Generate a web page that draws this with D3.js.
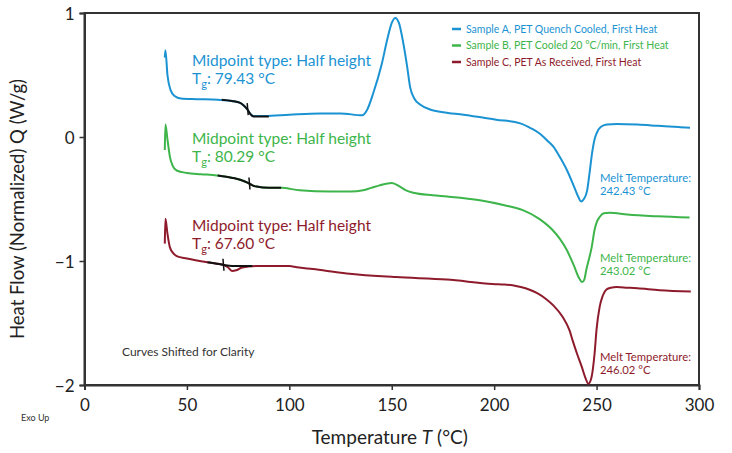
<!DOCTYPE html>
<html>
<head>
    <meta charset="utf-8" />
    <script src="https://cdn.jsdelivr.net/npm/d3@7/dist/d3.min.js"></script>
    <style>
        body { margin: 0; background: #fff; }
        text { font-family: Lato, "Open Sans", sans-serif; }
        .curve { fill: none; stroke-width: 2; }
    </style>
</head>
<body>
    <script>
        // temperature (°C), normalized heat flow (W/g)
        var sampleA = [[39.2,0.64],[39.5,0.70],[40.5,0.50],[42,0.38],[44,0.33],[47,0.31],[55,0.305],[65,0.30],[72,0.29],[76,0.275],[78,0.25],[79.4,0.225],[81,0.185],[82.5,0.17],[88,0.17],[100,0.18],[115,0.19],[125,0.19],[135.6,0.175],[138,0.22],[141,0.355],[145,0.58],[148,0.80],[150,0.92],[151.7,0.96],[153.5,0.92],[155.6,0.76],[157.5,0.57],[159,0.40],[161,0.31],[164,0.26],[169,0.22],[175,0.20],[185,0.18],[201,0.14],[212.7,0.11],[218,0.07],[222,0.03],[226,-0.03],[229,-0.08],[232,-0.16],[235.6,-0.27],[239,-0.40],[241,-0.48],[242.4,-0.52],[243.8,-0.50],[245.4,-0.43],[246.5,-0.30],[247.8,-0.13],[249,-0.02],[250,0.03],[252,0.08],[255,0.10],[260,0.105],[270,0.10],[280,0.09],[290,0.08],[295.6,0.075]];
        var sampleB = [[39.2,-0.105],[39.5,0.10],[40.5,-0.02],[41.7,-0.16],[43,-0.23],[45,-0.27],[50,-0.29],[57,-0.30],[64.6,-0.31],[72.4,-0.33],[76,-0.345],[79.8,-0.37],[82,-0.39],[84,-0.40],[90,-0.41],[96,-0.41],[105,-0.43],[120,-0.44],[130,-0.44],[136,-0.43],[140,-0.41],[144,-0.39],[150,-0.37],[154,-0.40],[157,-0.43],[160.5,-0.45],[170,-0.47],[177,-0.48],[193,-0.51],[205,-0.55],[214,-0.59],[222,-0.66],[228.5,-0.75],[232,-0.82],[235.4,-0.91],[239,-1.04],[241.5,-1.14],[243,-1.17],[244,-1.15],[245,-1.07],[246.5,-0.97],[247.6,-0.89],[249,-0.75],[250,-0.69],[251.5,-0.645],[253.5,-0.615],[256.3,-0.61],[265,-0.625],[280,-0.64],[295.4,-0.65]];
        var sampleC = [[39.2,-0.86],[39.5,-0.66],[40.5,-0.78],[41.7,-0.89],[43.5,-0.94],[45,-0.96],[50,-0.98],[60,-1.01],[64,-1.02],[67.6,-1.03],[70,-1.05],[72,-1.08],[74,-1.075],[76.5,-1.055],[80,-1.045],[85,-1.04],[95,-1.04],[100,-1.04],[103.7,-1.05],[111.5,-1.065],[128,-1.10],[152,-1.13],[176.8,-1.15],[199.3,-1.185],[205,-1.19],[209,-1.195],[213,-1.21],[217,-1.23],[221,-1.26],[225.6,-1.31],[229,-1.36],[233.4,-1.45],[236.8,-1.56],[238.3,-1.64],[240.5,-1.75],[242.7,-1.85],[244.5,-1.94],[246,-1.99],[247.5,-1.94],[249,-1.75],[250,-1.55],[251.5,-1.37],[253,-1.28],[254.8,-1.23],[257,-1.215],[259.8,-1.21],[265,-1.215],[270,-1.22],[280.7,-1.235],[296,-1.245]];

        // glass transition construction lines (black)
        var tgLineA = [[67,0.30],[72,0.29],[76,0.275],[78,0.25],[79.4,0.225],[81,0.185],[82.5,0.165],[90,0.165]];
        var tgLineB = [[65,-0.31],[72.4,-0.33],[76,-0.345],[79.8,-0.37],[82,-0.39],[84,-0.40],[90,-0.41],[96,-0.41]];
        var tgLineC = [[60,-1.01],[64,-1.02],[67.6,-1.03],[72,-1.04],[82,-1.04]];

        var seriesNames = ["Sample A, PET Quench Cooled, First Heat",
            "Sample B, PET Cooled 20 °C/min, First Heat",
            "Sample C, PET As Received, First Heat"];
        var seriesColors = ["#1b93d3", "#3db54a", "#8e1b2c"];
        var tgValues = [79.43, 80.29, 67.60];
        var tgHeat = [0.225, -0.375, -1.03];
        var meltValues = ["242.43", "243.02", "246.02"];

        var xTicks = [0, 50, 100, 150, 200, 250, 300];
        var yTicks = [-2, -1, 0, 1];

        var width = 732,
            height = 453;

        var x = d3.scaleLinear().domain([0, 300]).range([84.5, 699]);
        var y = d3.scaleLinear().domain([-2, 1]).range([385, 13]);

        var svg = d3.select("body").append("svg")
            .attr("width", width)
            .attr("height", height);

        var line = d3.line()
            .x(function (d) { return x(d[0]); })
            .y(function (d) { return y(d[1]); })
            .curve(d3.curveMonotoneX);

        // frame
        svg.append("rect")
            .attr("x", x(0)).attr("y", y(1))
            .attr("width", x(300) - x(0)).attr("height", y(-2) - y(1))
            .attr("fill", "none").attr("stroke", "#333").attr("stroke-width", 2);

        var xAxis = svg.append("g")
            .attr("transform", "translate(0," + y(-2) + ")")
            .call(d3.axisBottom(x).tickValues(xTicks).tickSize(5).tickPadding(9));
        var yAxis = svg.append("g")
            .attr("transform", "translate(" + x(0) + ",0)")
            .call(d3.axisLeft(y).tickValues(yTicks).tickSize(5).tickPadding(5).tickFormat(d3.format("d")));

        [xAxis, yAxis].forEach(function (g) {
            g.select(".domain").attr("stroke", "#333").attr("stroke-width", 2);
            g.selectAll(".tick line").attr("stroke", "#333").attr("stroke-width", 1.5);
            g.selectAll(".tick text").attr("font-size", 17).attr("fill", "#222")
                .style("font-family", "Lato, sans-serif");
        });
        yAxis.selectAll(".tick text").attr("dy", "0.36em");

        // curves
        var samples = [sampleA, sampleB, sampleC];
        svg.selectAll("path.curve")
            .data(samples)
            .enter().append("path")
            .attr("class", "curve")
            .attr("stroke", function (d, i) { return seriesColors[i]; })
            .attr("d", line);

        svg.selectAll("path.tg")
            .data([tgLineA, tgLineB, tgLineC])
            .enter().append("path")
            .attr("class", "tg")
            .attr("fill", "none")
            .attr("stroke", "#111")
            .attr("stroke-width", 2)
            .attr("d", line);

        svg.selectAll("line.tgmark")
            .data(tgValues)
            .enter().append("line")
            .attr("class", "tgmark")
            .attr("x1", function (d) { return x(d); })
            .attr("x2", function (d) { return x(d) + 1; })
            .attr("y1", function (d, i) { return y(tgHeat[i]) - 6; })
            .attr("y2", function (d, i) { return y(tgHeat[i]) + 6; })
            .attr("stroke", "#111").attr("stroke-width", 1.5);

        // Tg annotations
        var annY = [66, 144, 231];
        var ann = svg.selectAll("g.ann")
            .data(tgValues)
            .enter().append("g")
            .attr("class", "ann")
            .attr("fill", function (d, i) { return seriesColors[i]; })
            .attr("font-size", 15.5);
        ann.append("text")
            .attr("x", 192)
            .attr("y", function (d, i) { return annY[i]; })
            .text("Midpoint type: Half height");
        var tgText = ann.append("text")
            .attr("x", 192)
            .attr("y", function (d, i) { return annY[i] + 18; });
        tgText.append("tspan").text("T");
        tgText.append("tspan").attr("font-size", 11).attr("dy", 4).text("g");
        tgText.append("tspan").attr("dy", -4).text(function (d) { return ": " + d.toFixed(2) + " °C"; });

        // melt annotations
        var meltY = [182, 262, 361];
        var melt = svg.selectAll("g.melt")
            .data(meltValues)
            .enter().append("g")
            .attr("class", "melt")
            .attr("fill", function (d, i) { return seriesColors[i]; })
            .attr("font-size", 11.3);
        melt.append("text")
            .attr("x", 600)
            .attr("y", function (d, i) { return meltY[i]; })
            .text("Melt Temperature:");
        melt.append("text")
            .attr("x", 600)
            .attr("y", function (d, i) { return meltY[i] + 13; })
            .text(function (d) { return d + " °C"; });

        // legend
        var legend = svg.selectAll("g.legend")
            .data(seriesNames)
            .enter().append("g")
            .attr("class", "legend")
            .attr("transform", function (d, i) { return "translate(452," + (29 + i * 16.5) + ")"; });
        legend.append("line")
            .attr("x1", 0).attr("x2", 9)
            .attr("stroke", function (d, i) { return seriesColors[i]; })
            .attr("stroke-width", 2.5);
        legend.append("text")
            .attr("x", 14).attr("dy", "0.35em")
            .attr("font-size", 10.5)
            .attr("fill", function (d, i) { return seriesColors[i]; })
            .text(function (d) { return d; });

        svg.append("text")
            .attr("x", 122).attr("y", 356)
            .attr("font-size", 12).attr("fill", "#333")
            .text("Curves Shifted for Clarity");

        svg.append("text")
            .attr("x", 21).attr("y", 421)
            .attr("font-size", 9).attr("fill", "#333")
            .text("Exo Up");

        // axis titles
        var xt = svg.append("text")
            .attr("x", (x(0) + x(300)) / 2 - 2).attr("y", 444)
            .attr("text-anchor", "middle")
            .attr("font-size", 19).attr("fill", "#222");
        xt.append("tspan").text("Temperature ");
        xt.append("tspan").attr("font-style", "italic").text("T");
        xt.append("tspan").text(" (°C)");

        svg.append("text")
            .attr("transform", "translate(24,209) rotate(-90)")
            .attr("text-anchor", "middle")
            .attr("font-size", 18.5).attr("fill", "#222")
            .text("Heat Flow (Normalized) Q (W/g)");
    </script>
</body>
</html>
